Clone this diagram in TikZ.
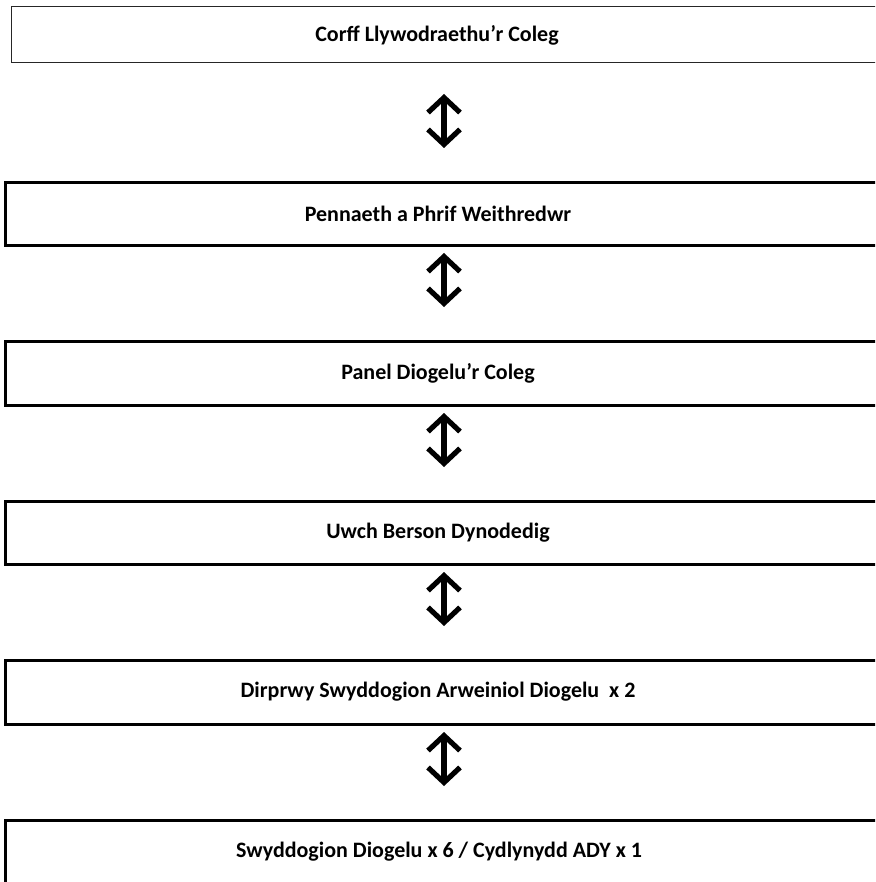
\documentclass[tikz,border=0pt]{standalone}
\usepackage{fontspec}
\setmainfont{Carlito}
\usetikzlibrary{arrows.meta}
\begin{document}
\begin{tikzpicture}[x=1pt,y=-1pt,
  orgbox/.style={draw, line width=3pt, rectangle, inner sep=0pt, outer sep=0pt, anchor=north west, minimum width=880pt},
  lbl/.style={font=\fontsize{22}{26}\selectfont\bfseries, inner sep=0pt},
  barb/.tip={Straight Barb[length=15pt,width=32pt]},
  updown/.style={line width=5.2pt, barb-barb, shorten >=34.5pt}]
\useasboundingbox (0,0) rectangle (875,882);
\clip (0,0) rectangle (875,882);
\coordinate (ax) at (444,0);
% boxes
\node[orgbox, line width=1.5pt, draw=black!85, minimum height=56pt] (b1) at (11.5,6.5) {};
\node[orgbox, minimum height=63pt] (b2) at (5.5,182.5) {};
\node[orgbox, minimum height=64pt] (b3) at (5.5,341.5) {};
\node[orgbox, minimum height=63pt] (b4) at (5.5,501.5) {};
\node[orgbox, minimum height=64pt] (b5) at (5.5,660.5) {};
\node[orgbox, minimum height=100pt] (b6) at (5.5,820.5) {};
% labels
\node[lbl] (t1) at (437,35) {Corff Llywodraethu’r Coleg};
\node[lbl] (t2) at (438,214) {Pennaeth a Phrif Weithredwr};
\node[lbl] (t3) at (438,373) {Panel Diogelu’r Coleg};
\node[lbl] (t4) at (438,533) {Uwch Berson Dynodedig};
\node[lbl] (t5) at (438,692) {Dirprwy Swyddogion Arweiniol Diogelu\ \ x 2};
\node[lbl] (t6) at (439,852) {Swyddogion Diogelu x 6 / Cydlynydd ADY x 1};
% arrows
\draw[updown, shorten <=31.5pt] (b1.south -| ax) -- (b2.north -| ax);
\draw[updown, shorten <=7.5pt] (b2.south -| ax) -- (b3.north -| ax);
\draw[updown, shorten <=7.5pt] (b3.south -| ax) -- (b4.north -| ax);
\draw[updown, shorten <=7.5pt] (b4.south -| ax) -- (b5.north -| ax);
\draw[updown, shorten <=7.5pt] (b5.south -| ax) -- (b6.north -| ax);
\end{tikzpicture}
\end{document}
